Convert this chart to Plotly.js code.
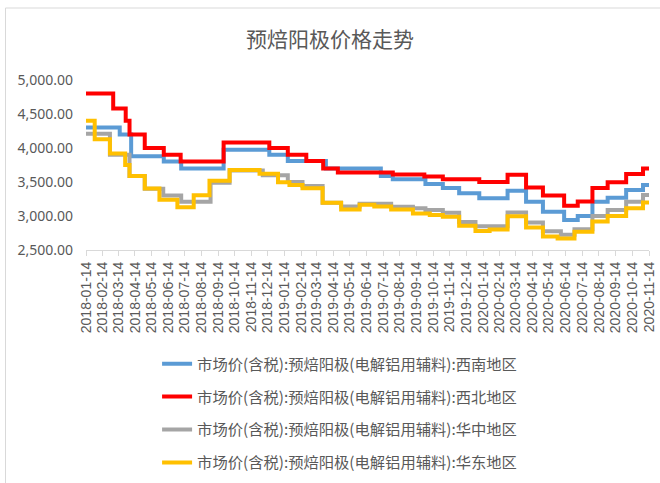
<!DOCTYPE html>
<html>
<head>
<meta charset="utf-8">
<script src="https://cdn.plot.ly/plotly-3.0.1.min.js"></script>
<style>html,body{margin:0;padding:0;background:#fff;}#chart{width:660px;height:483px;}</style>
</head>
<body>
<div id="chart"></div>
<script>
const seriesNames = [
  "市场价(含税):预焙阳极(电解铝用辅料):西南地区",
  "市场价(含税):预焙阳极(电解铝用辅料):西北地区",
  "市场价(含税):预焙阳极(电解铝用辅料):华中地区",
  "市场价(含税):预焙阳极(电解铝用辅料):华东地区"
];

// 西南 (step change dates and values)
const swDates = ["2018-01-14","2018-03-17","2018-04-07","2018-06-06","2018-07-08","2018-09-24","2018-12-17","2019-01-20","2019-03-31","2019-07-10","2019-08-01","2019-09-30","2019-11-01","2019-12-01","2020-01-07","2020-02-28","2020-04-02","2020-05-03","2020-06-11","2020-07-06","2020-08-02","2020-08-30","2020-10-03","2020-11-03","2020-11-14"];
const swValues = [4300,4200,3880,3800,3700,3975,3900,3810,3700,3590,3540,3470,3410,3335,3260,3372,3210,3063,2941,3000,3210,3269,3382,3455,3455];

// 西北
const nwDates = ["2018-01-14","2018-03-05","2018-03-28","2018-04-04","2018-05-02","2018-06-06","2018-07-07","2018-09-24","2018-12-17","2019-01-20","2019-02-23","2019-03-26","2019-04-22","2019-08-01","2019-09-28","2019-11-01","2020-01-07","2020-02-28","2020-04-02","2020-05-03","2020-06-11","2020-07-06","2020-08-02","2020-08-30","2020-10-03","2020-11-03","2020-11-14"];
const nwValues = [4800,4580,4400,4200,4000,3900,3800,4080,4000,3900,3810,3700,3640,3610,3580,3540,3500,3605,3420,3300,3150,3215,3410,3495,3617,3700,3700];

// 华中
const ccDates = ["2018-01-14","2018-02-27","2018-04-04","2018-05-02","2018-06-05","2018-07-08","2018-08-31","2018-10-05","2018-12-05","2019-01-20","2019-02-16","2019-03-25","2019-04-28","2019-06-01","2019-07-29","2019-09-07","2019-09-30","2019-11-01","2019-12-01","2019-12-31","2020-02-28","2020-04-02","2020-05-03","2020-06-05","2020-06-30","2020-08-02","2020-08-30","2020-10-03","2020-11-03","2020-11-14"];
const ccValues = [4210,3900,3590,3400,3300,3210,3490,3670,3600,3500,3440,3195,3140,3180,3137,3113,3088,3049,2910,2850,3050,2905,2775,2725,2805,3000,3090,3210,3309,3309];

// 华东
const ecDates = ["2018-01-14","2018-01-30","2018-02-27","2018-03-27","2018-04-04","2018-05-02","2018-05-29","2018-07-01","2018-07-31","2018-08-29","2018-10-05","2018-11-29","2019-01-02","2019-01-23","2019-02-16","2019-03-25","2019-04-28","2019-06-01","2019-06-28","2019-07-29","2019-09-07","2019-10-08","2019-11-01","2019-12-01","2019-12-31","2020-01-26","2020-02-28","2020-04-02","2020-05-03","2020-05-30","2020-06-30","2020-08-02","2020-08-30","2020-10-03","2020-11-03","2020-11-14"];
const ecValues = [4400,4130,3920,3750,3590,3405,3240,3130,3305,3520,3675,3620,3495,3455,3407,3195,3095,3165,3140,3095,3035,3015,2990,2855,2780,2800,2995,2830,2700,2670,2770,2920,3000,3115,3200,3200];

const tickDates = ["2018-01-14","2018-02-14","2018-03-14","2018-04-14","2018-05-14","2018-06-14","2018-07-14","2018-08-14","2018-09-14","2018-10-14","2018-11-14","2018-12-14","2019-01-14","2019-02-14","2019-03-14","2019-04-14","2019-05-14","2019-06-14","2019-07-14","2019-08-14","2019-09-14","2019-10-14","2019-11-14","2019-12-14","2020-01-14","2020-02-14","2020-03-14","2020-04-14","2020-05-14","2020-06-14","2020-07-14","2020-08-14","2020-09-14","2020-10-14","2020-11-14"];
const tickLabels = tickDates.slice();

const colors = ["#5B9BD5","#FF0000","#A5A5A5","#FFC000"];
const xs = [swDates, nwDates, ccDates, ecDates];
const ys = [swValues, nwValues, ccValues, ecValues];

const traces = xs.map((x, i) => ({
  type: "scatter", mode: "lines", x: x, y: ys[i], name: seriesNames[i],
  line: {color: colors[i], width: 4, shape: "hv"},
  legendgroup: "g" + i
}));

const layout = {
  width: 660, height: 483,
  margin: {l: 86, r: 11, t: 80, b: 233, autoexpand: false},
  paper_bgcolor: "#ffffff", plot_bgcolor: "#ffffff",
  font: {family: "Noto Sans CJK SC, Noto Sans, sans-serif", color: "#595959"},
  title: {text: "预焙阳极价格走势", x: 0.5, xref: "container", y: 0.918, yref: "container", yanchor: "middle",
          font: {size: 21, color: "#595959", family: "Noto Sans CJK SC, sans-serif"}},
  xaxis: {type: "date", range: ["2018-01-14", "2020-11-14"], tickmode: "array", tickvals: tickDates, ticktext: tickLabels,
          tickangle: -90, tickfont: {size: 14, color: "#595959", family: "Liberation Sans, Arial, sans-serif"},
          showgrid: false, showline: true, linecolor: "#d9d9d9", linewidth: 1, automargin: false,
          ticks: "outside", ticklen: 5, tickcolor: "#d9d9d9", zeroline: false, fixedrange: true},
  yaxis: {range: [2500, 5000], tickvals: [2500,3000,3500,4000,4500,5000], tickformat: ",.2f", automargin: false,
          tickfont: {size: 14, color: "#595959", family: "Noto Sans, sans-serif"}, ticklabelstandoff: 12,
          showgrid: false, showline: false, zeroline: false, ticks: "", ticklen: 0, fixedrange: true},
  showlegend: true,
  legend: {orientation: "v", xref: "container", yref: "container", x: 0.238, y: 0.281, xanchor: "left", yanchor: "top",
           font: {size: 15.3, color: "#595959", family: "Noto Sans CJK SC, sans-serif"},
           traceorder: "grouped", tracegroupgap: 10, bgcolor: "rgba(0,0,0,0)"},
  shapes: [{type: "rect", xref: "paper", yref: "paper", x0: -0.143, x1: 1.2, y0: -2, y1: 1.4235,
            line: {color: "#d9d9d9", width: 1}, fillcolor: "rgba(0,0,0,0)", layer: "below"}]
};

Plotly.newPlot("chart", traces, layout, {displayModeBar: false, staticPlot: true});
</script>
</body>
</html>
